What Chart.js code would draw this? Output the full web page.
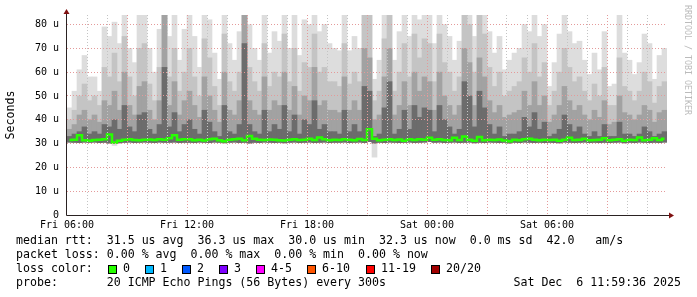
<!DOCTYPE html>
<html>
<head>
<meta charset="utf-8">
<script src="https://cdn.jsdelivr.net/npm/chart.js@4.4.1/dist/chart.umd.min.js"></script>
<style>
  html, body { margin: 0; padding: 0; background: #fff; }
  canvas { display: block; }
</style>
</head>
<body>
<canvas id="smoke" width="697" height="297"></canvas>
<script>
// 15 minute slots from Fri 06:00 to Sat 12:00 (120 slots)
const slotHours = 0.25;
const tickNames = ['Fri 06:00', 'Fri 12:00', 'Fri 18:00', 'Sat 00:00', 'Sat 06:00'];
const yTicks = [0, 10, 20, 30, 40, 50, 60, 70, 80];

// smoke: top of each band (us)
const pingMax = [
  45, 52, 61, 67, 58, 58, 52, 79, 75, 81, 72, 84, 70, 64, 84, 84, 70, 60, 78, 84, 75, 84, 65, 78,
  84, 75, 62, 84, 82, 68, 57, 84, 72, 65, 77, 84, 80, 70, 65, 84, 68, 77, 73, 84, 70, 84, 67, 82,
  80, 84, 77, 80, 72, 70, 69, 84, 69, 75, 70, 84, 84, 57, 65, 84, 84, 65, 77, 84, 75, 84, 82, 84,
  84, 72, 84, 80, 75, 65, 73, 84, 84, 75, 84, 84, 77, 68, 75, 61, 65, 68, 70, 80, 77, 84, 75, 80,
  54, 64, 76, 84, 77, 72, 73, 65, 59, 68, 61, 77, 54, 55, 84, 68, 65, 59, 64, 76, 72, 57, 67, 70
];
const pingHi = [
  40, 44, 50, 55, 48, 50, 46, 62, 58, 68, 56, 75, 58, 50, 70, 72, 55, 48, 62, 84, 58, 70, 52, 60,
  70, 58, 50, 74, 66, 54, 46, 76, 56, 52, 60, 84, 62, 56, 52, 72, 54, 60, 58, 76, 56, 70, 52, 64,
  62, 76, 60, 62, 56, 56, 54, 72, 55, 60, 56, 84, 84, 48, 52, 74, 84, 52, 60, 72, 58, 76, 66, 74,
  72, 56, 76, 64, 60, 52, 58, 84, 80, 60, 84, 76, 62, 54, 60, 50, 52, 54, 56, 66, 60, 72, 58, 64,
  46, 52, 60, 70, 62, 56, 58, 52, 48, 55, 50, 62, 46, 46, 66, 54, 52, 48, 52, 60, 56, 47, 54, 56
];
const pingMid = [
  36, 38, 42, 44, 40, 42, 39, 48, 46, 52, 44, 60, 46, 42, 54, 56, 44, 40, 48, 84, 46, 56, 42, 48,
  52, 46, 41, 58, 50, 44, 39, 60, 44, 42, 48, 84, 48, 44, 42, 58, 44, 48, 46, 60, 44, 54, 42, 50,
  48, 62, 46, 48, 44, 44, 43, 58, 44, 48, 44, 70, 66, 40, 42, 58, 70, 42, 46, 56, 46, 60, 52, 58,
  56, 44, 60, 50, 46, 42, 46, 70, 64, 46, 66, 58, 48, 43, 46, 41, 42, 43, 44, 52, 46, 56, 46, 50,
  39, 42, 46, 54, 48, 44, 46, 42, 40, 44, 41, 48, 38, 39, 50, 43, 42, 40, 42, 46, 44, 39, 43, 44
];
const pingLow = [
  33, 34, 35, 37, 34, 35, 34, 38, 37, 40, 36, 46, 37, 35, 42, 43, 36, 34, 38, 62, 37, 43, 35, 38,
  40, 36, 34, 44, 39, 35, 33, 46, 35, 34, 38, 72, 38, 35, 34, 44, 35, 38, 36, 46, 35, 42, 34, 40,
  38, 48, 36, 38, 35, 35, 34, 44, 35, 38, 35, 54, 52, 33, 34, 45, 56, 34, 36, 44, 36, 46, 41, 45,
  44, 35, 46, 40, 37, 34, 36, 56, 50, 37, 52, 45, 38, 34, 37, 33, 34, 34, 35, 41, 37, 43, 36, 39,
  33, 34, 36, 42, 38, 35, 37, 34, 33, 35, 33, 38, 33, 33, 39, 34, 34, 33, 34, 37, 35, 33, 34, 35
];
// fastest ping of each slot (bottom of the lightest band)
const pingMin = [
  30.6, 30.5, 30.4, 30.6, 30.5, 30.6, 30.4, 30.5, 30.2, 29.2, 30.3, 30.5, 30.6, 30.4, 30.5, 30.6, 30.5, 30.4, 30.6, 30.5, 30.5, 30.6, 30.4, 30.5,
  30.5, 30.4, 30.6, 30.5, 30.4, 30.6, 30.5, 30.3, 30.5, 30.6, 30.4, 30.5, 30.2, 30.5, 30.4, 30.6, 30.5, 30.4, 30.5, 30.3, 30.5, 30.6, 30.4, 30.5,
  30.6, 30.4, 30.5, 30.6, 30.4, 30.5, 30.5, 30.6, 30.4, 30.5, 30.6, 30.4, 30.8, 24.3, 30.5, 30.4, 30.6, 30.5, 30.4, 30.5, 30.6, 30.4, 30.5, 30.6,
  30.8, 30.5, 30.6, 30.4, 30.5, 30.6, 30.4, 30.5, 30.6, 30.3, 30.5, 30.4, 30.6, 30.5, 30.4, 30.5, 30.2, 30.5, 30.4, 30.6, 30.5, 30.4, 30.5, 30.4,
  30.5, 30.4, 30.3, 30.6, 30.5, 30.4, 30.5, 30.6, 30.4, 30.5, 30.4, 30.5, 30.4, 30.5, 30.6, 30.3, 30.5, 30.4, 30.6, 30.5, 30.4, 30.5, 30.4, 30.6
];
const medianRtt = [
  31.5, 31.6, 33.5, 31.4, 31.2, 31.5, 31.6, 31.8, 33.8, 30.5, 31.2, 31.6, 31.8, 31.5, 31.4, 31.6, 31.7, 31.5, 31.8, 31.6, 32.2, 33.5, 31.6, 31.8,
  31.8, 31.4, 31.6, 31.3, 31.8, 32.0, 31.4, 31.0, 31.6, 31.8, 32.0, 31.4, 33.2, 32.0, 31.6, 31.5, 31.7, 31.6, 31.4, 31.3, 31.6, 31.8, 31.5, 31.6,
  32.0, 31.5, 32.6, 31.8, 31.4, 31.6, 31.5, 31.8, 31.6, 31.4, 31.9, 31.5, 36.0, 32.0, 31.4, 31.6, 31.8, 31.5, 31.7, 31.2, 31.8, 31.5, 31.8, 31.6,
  32.4, 31.6, 31.8, 31.5, 31.4, 32.4, 31.5, 33.0, 31.6, 31.2, 32.8, 31.4, 31.6, 31.5, 31.7, 31.3, 31.0, 31.6, 31.4, 31.8, 32.0, 31.6, 31.4, 31.6,
  31.5, 31.6, 31.2, 31.6, 32.4, 31.5, 31.6, 32.0, 31.4, 31.5, 31.6, 32.2, 31.4, 31.6, 31.8, 31.2, 31.6, 31.5, 32.6, 31.4, 31.6, 32.2, 31.5, 32.0
];

const lossNames = ['0', '1', '2', '3', '4-5', '6-10', '11-19', '20/20'];
const lossColors = ['#26ff00', '#00b8ff', '#0059ff', '#7e00ff', '#ff00ff', '#ff5500', '#ff0000', '#a10000'];

const legendLines = [
  'median rtt:  31.5 us avg  36.3 us max  30.0 us min  32.3 us now  0.0 ms sd  42.0   am/s',
  'packet loss: 0.00 % avg  0.00 % max  0.00 % min  0.00 % now',
  'loss color:',
  'probe:       20 ICMP Echo Pings (56 Bytes) every 300s'
];
const stamp = 'Sat Dec  6 11:59:36 2025';

const mono = "'DejaVu Sans Mono', 'Liberation Mono', monospace";

function slotX(i) {
  return i * slotHours + slotHours / 2;
}

// the darker bands start at the usual floor, only the lightest one shows dips
function smokeSet(top, color, order, fullRange) {
  return {
    type: 'bar',
    data: top.map((v, i) => ({
      x: slotX(i),
      y: [fullRange ? pingMin[i] : Math.max(pingMin[i], 30.2), v]
    })),
    backgroundColor: color,
    borderWidth: 0,
    grouped: false,
    barPercentage: 1,
    categoryPercentage: 1,
    order: order
  };
}

function tickValue(ctx) {
  return ctx && ctx.tick ? ctx.tick.value : -1;
}

// axes, arrows, legend text and watermark
const rrdExtras = {
  id: 'rrdExtras',
  afterDraw(chart) {
    const c = chart.ctx;
    const a = chart.chartArea;
    c.save();
    c.strokeStyle = '#2a2222';
    c.lineWidth = 1;
    c.beginPath();
    c.moveTo(a.left - 0.5, a.bottom + 0.5);
    c.lineTo(a.right + 4, a.bottom + 0.5);
    c.moveTo(a.left - 0.5, a.bottom + 0.5);
    c.lineTo(a.left - 0.5, a.top - 3);
    c.stroke();
    c.fillStyle = '#7f1010';
    c.beginPath();
    c.moveTo(a.right + 7, a.bottom + 0.5);
    c.lineTo(a.right + 2, a.bottom - 2.5);
    c.lineTo(a.right + 2, a.bottom + 3.5);
    c.fill();
    c.beginPath();
    c.moveTo(a.left - 0.5, a.top - 6);
    c.lineTo(a.left - 3.5, a.top - 1);
    c.lineTo(a.left + 2.5, a.top - 1);
    c.fill();

    c.fillStyle = '#000';
    c.font = '11.6px ' + mono;
    c.textBaseline = 'middle';
    c.textAlign = 'left';
    legendLines.forEach((t, i) => c.fillText(t, 16, 241 + i * 14));
    c.textAlign = 'right';
    c.fillText(stamp, 681, 283);

    const boxX = [108, 145, 182, 219, 256, 307, 366, 431];
    c.textAlign = 'left';
    lossNames.forEach((n, i) => {
      c.fillStyle = lossColors[i];
      c.fillRect(boxX[i], 265, 8, 8);
      c.strokeStyle = '#000';
      c.strokeRect(boxX[i] + 0.5, 265.5, 8, 8);
      c.fillStyle = '#000';
      c.fillText(n, boxX[i] + 15, 269);
    });

    c.translate(687, 5);
    c.rotate(Math.PI / 2);
    c.font = '8.3px ' + mono;
    c.fillStyle = '#bbbbbb';
    c.textAlign = 'left';
    c.fillText('RRDTOOL / TOBI OETIKER', 0, 0);
    c.restore();
  }
};

new Chart(document.getElementById('smoke').getContext('2d'), {
  data: {
    datasets: [
      {
        type: 'line',
        data: medianRtt.map((v, i) => ({ x: slotX(i), y: v })),
        borderColor: lossColors[0],
        borderWidth: 2.5,
        pointRadius: 0,
        stepped: 'middle',
        order: 0
      },
      smokeSet(pingLow, '#6c6c6c', 1, false),
      smokeSet(pingMid, '#a2a2a2', 2, false),
      smokeSet(pingHi, '#c4c4c4', 3, false),
      smokeSet(pingMax, '#dddddd', 4, true)
    ]
  },
  options: {
    responsive: false,
    devicePixelRatio: 1,
    animation: false,
    layout: { padding: { top: 15, right: 30, left: 0, bottom: 0 } },
    plugins: { legend: { display: false }, tooltip: { enabled: false } },
    scales: {
      x: {
        type: 'linear',
        min: 0,
        max: 30,
        offset: false,
        afterFit: s => { s.height = 82; },
        border: { display: false, dash: [1, 2] },
        grid: {
          z: 1,
          offset: false,
          drawTicks: false,
          color: ctx => {
            const v = tickValue(ctx);
            if (v <= 0 || v >= 30) return 'rgba(0,0,0,0)';
            return v % 3 === 0 ? '#e49a9a' : '#c4c4c4';
          }
        },
        ticks: {
          stepSize: 1,
          autoSkip: false,
          maxRotation: 0,
          padding: 4,
          color: '#000',
          font: { family: mono, size: 10 },
          callback: v => (v % 6 === 0 && v / 6 < tickNames.length) ? tickNames[v / 6] : ''
        }
      },
      y: {
        min: 0,
        max: 84,
        afterFit: s => { s.width = 67; },
        border: { display: false, dash: [1, 2] },
        title: {
          display: true,
          text: 'Seconds',
          color: '#000',
          font: { family: mono, size: 11.6 },
          padding: { top: 4, bottom: 0 }
        },
        grid: {
          z: 1,
          drawTicks: false,
          color: ctx => {
            const v = tickValue(ctx);
            if (v <= 0 || v > 80) return 'rgba(0,0,0,0)';
            return v % 10 === 0 ? '#e49a9a' : '#c4c4c4';
          }
        },
        ticks: {
          stepSize: 5,
          includeBounds: false,
          padding: 8,
          color: '#000',
          font: { family: mono, size: 10 },
          callback: v => yTicks.includes(v) ? (v === 0 ? '0' : v + ' u') : ''
        }
      }
    }
  },
  plugins: [rrdExtras]
});
</script>
</body>
</html>
